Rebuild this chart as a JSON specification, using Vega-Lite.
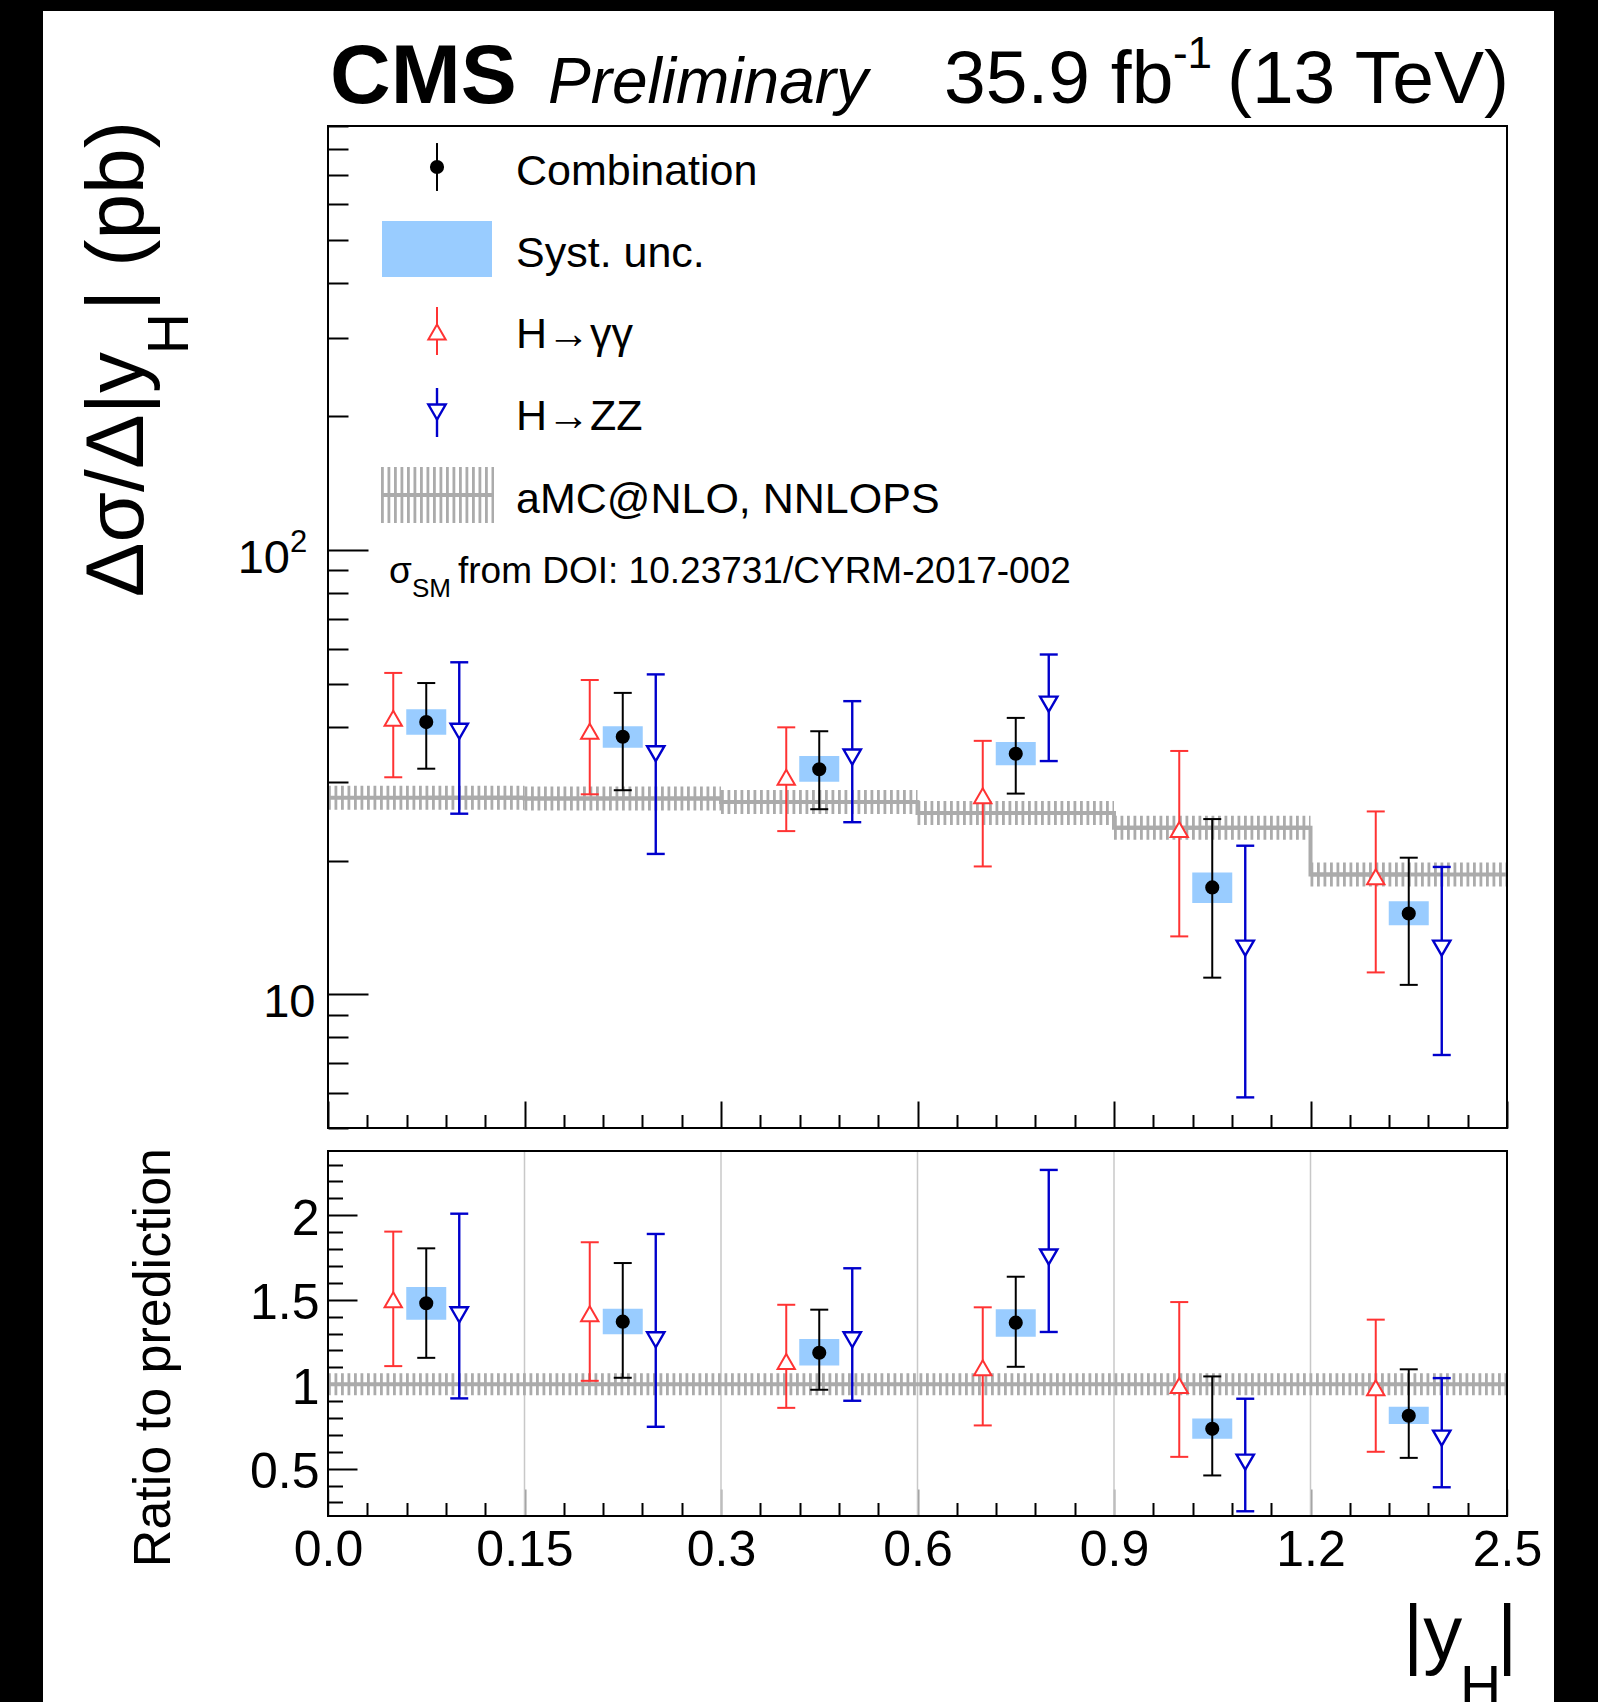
{
  "$schema": "https://vega.github.io/schema/vega-lite/v6.json",
  "width": 1511,
  "height": 1691,
  "autosize": {"type": "none"},
  "padding": {"left": 43, "top": 11, "right": 44, "bottom": 0},
  "background": "black",
  "config": {"view": {"fill": "white", "stroke": null}, "font": "Liberation Sans"},
  "datasets": {
    "bins": [
      {"bin": "0-0.15", "lo": 0, "hi": 0.15, "mid": 0.075, "pred": 27.7, "comb": 41.0, "comb_lo": 32.2, "comb_hi": 50.2, "syst_lo": 38.4, "syst_hi": 43.8, "gg": 41.8, "gg_lo": 30.8, "gg_hi": 52.9, "zz": 39.1, "zz_lo": 25.5, "zz_hi": 55.9, "r_comb": 1.479, "r_comb_lo": 1.156, "r_comb_hi": 1.804, "r_syst_lo": 1.382, "r_syst_hi": 1.575, "r_gg": 1.5, "r_gg_lo": 1.107, "r_gg_hi": 1.903, "r_zz": 1.411, "r_zz_lo": 0.916, "r_zz_hi": 2.009},
      {"bin": "0.15-0.3", "lo": 0.15, "hi": 0.3, "mid": 0.225, "pred": 27.6, "comb": 38.0, "comb_lo": 28.8, "comb_hi": 47.7, "syst_lo": 35.9, "syst_hi": 40.1, "gg": 39.1, "gg_lo": 28.2, "gg_hi": 51.0, "zz": 34.8, "zz_lo": 20.7, "zz_hi": 52.5, "r_comb": 1.37, "r_comb_lo": 1.038, "r_comb_hi": 1.717, "r_syst_lo": 1.295, "r_syst_hi": 1.447, "r_gg": 1.417, "r_gg_lo": 1.02, "r_gg_hi": 1.84, "r_zz": 1.263, "r_zz_lo": 0.748, "r_zz_hi": 1.889},
      {"bin": "0.3-0.6", "lo": 0.3, "hi": 0.6, "mid": 0.45, "pred": 27.1, "comb": 32.1, "comb_lo": 26.1, "comb_hi": 39.1, "syst_lo": 30.1, "syst_hi": 34.4, "gg": 30.8, "gg_lo": 23.3, "gg_hi": 39.9, "zz": 34.2, "zz_lo": 24.4, "zz_hi": 45.7, "r_comb": 1.186, "r_comb_lo": 0.967, "r_comb_hi": 1.441, "r_syst_lo": 1.111, "r_syst_hi": 1.267, "r_gg": 1.135, "r_gg_lo": 0.86, "r_gg_hi": 1.47, "r_zz": 1.263, "r_zz_lo": 0.902, "r_zz_hi": 1.686},
      {"bin": "0.6-0.9", "lo": 0.6, "hi": 0.9, "mid": 0.75, "pred": 25.6, "comb": 34.8, "comb_lo": 28.3, "comb_hi": 41.9, "syst_lo": 32.8, "syst_hi": 37.0, "gg": 28.0, "gg_lo": 19.4, "gg_hi": 37.2, "zz": 45.0, "zz_lo": 33.5, "zz_hi": 58.2, "r_comb": 1.364, "r_comb_lo": 1.103, "r_comb_hi": 1.636, "r_syst_lo": 1.281, "r_syst_hi": 1.443, "r_gg": 1.097, "r_gg_lo": 0.756, "r_gg_hi": 1.455, "r_zz": 1.753, "r_zz_lo": 1.309, "r_zz_hi": 2.268},
      {"bin": "0.9-1.2", "lo": 0.9, "hi": 1.2, "mid": 1.05, "pred": 23.7, "comb": 17.4, "comb_lo": 10.9, "comb_hi": 24.8, "syst_lo": 16.05, "syst_hi": 18.8, "gg": 23.5, "gg_lo": 13.5, "gg_hi": 35.3, "zz": 12.7, "zz_lo": 5.86, "zz_hi": 21.6, "r_comb": 0.736, "r_comb_lo": 0.46, "r_comb_hi": 1.046, "r_syst_lo": 0.677, "r_syst_hi": 0.797, "r_gg": 0.993, "r_gg_lo": 0.57, "r_gg_hi": 1.486, "r_zz": 0.539, "r_zz_lo": 0.248, "r_zz_hi": 0.914},
      {"bin": "1.2-2.5", "lo": 1.2, "hi": 2.5, "mid": 1.85, "pred": 18.6, "comb": 15.2, "comb_lo": 10.5, "comb_hi": 20.3, "syst_lo": 14.3, "syst_hi": 16.2, "gg": 18.4, "gg_lo": 11.2, "gg_hi": 25.8, "zz": 12.7, "zz_lo": 7.3, "zz_hi": 19.35, "r_comb": 0.813, "r_comb_lo": 0.564, "r_comb_hi": 1.088, "r_syst_lo": 0.764, "r_syst_hi": 0.866, "r_gg": 0.979, "r_gg_lo": 0.6, "r_gg_hi": 1.382, "r_zz": 0.681, "r_zz_lo": 0.39, "r_zz_hi": 1.036}
    ]
  },
  "layer": [
    {
      "layer": [
        {
          "data": {"name": "bins"},
          "mark": {"type": "rule", "color": "#ababab", "strokeWidth": 24, "strokeDash": [2.8, 3.7]},
          "encoding": {
            "x": {"field": "lo", "type": "quantitative",
              "scale": {"domain": [0, 0.15, 0.3, 0.6, 0.9, 1.2, 2.5], "range": [285, 481.5, 678, 874.5, 1071, 1267.5, 1464], "nice": false, "zero": false},
              "axis": {"orient": "bottom", "offset": -574, "title": null, "domain": false, "grid": false, "labels": false,
                "values": [0.03, 0.06, 0.09, 0.12, 0.18, 0.21, 0.24, 0.27, 0.36, 0.42, 0.48, 0.54, 0.66, 0.72, 0.78, 0.84, 0.96, 1.02, 1.08, 1.14, 1.46, 1.72, 1.98, 2.24],
                "tickSize": -13.5, "tickWidth": 2, "tickColor": "black"}},
            "x2": {"field": "hi"},
            "y": {"field": "pred", "type": "quantitative",
              "scale": {"type": "log", "domain": [5, 901], "range": [1117, 115], "nice": false},
              "axis": {"orient": "left", "offset": -285, "title": null, "domain": false, "grid": false, "labels": false,
                "values": [5, 6, 7, 8, 9, 20, 30, 40, 50, 60, 70, 80, 90, 200, 300, 400, 500, 600, 700, 800, 900],
                "tickSize": -20, "tickWidth": 2, "tickColor": "black"}}
          }
        },
        {
          "layer": [
            {
              "data": {"name": "bins"},
              "mark": {"type": "rule", "color": "#ababab", "strokeWidth": 4},
              "encoding": {
                "x": {"field": "lo", "type": "quantitative",
                  "axis": {"orient": "bottom", "offset": -574, "title": null, "domain": false, "grid": false, "labels": false,
                    "values": [0, 0.15, 0.3, 0.6, 0.9, 1.2, 2.5],
                    "tickSize": -27, "tickWidth": 2, "tickColor": "black"}},
                "x2": {"field": "hi"},
                "y": {"field": "pred", "type": "quantitative",
                  "axis": {"orient": "left", "offset": -285, "title": null, "domain": false, "grid": false,
                    "values": [10, 100],
                    "tickSize": -40, "tickWidth": 2, "tickColor": "black",
                    "labelExpr": "datum.value == 10 ? '10' : ''",
                    "labelFont": "Liberation Sans", "labelFontSize": 47, "labelColor": "black",
                    "labelPadding": 53, "labelOverlap": false, "labelFlush": false, "labelBaseline": "alphabetic", "labelOffset": 22.5}}
              }
            },
            {
              "data": {"name": "bins"},
              "mark": {"type": "line", "color": "#ababab", "strokeWidth": 4, "interpolate": "step"},
              "encoding": {"x": {"field": "mid", "type": "quantitative"}, "y": {"field": "pred", "type": "quantitative"}}
            },
            {
              "data": {"name": "bins"},
              "mark": {"type": "rect", "color": "#99ccff", "xOffset": -20, "x2Offset": 20},
              "encoding": {"x": {"field": "mid", "type": "quantitative"}, "x2": {"field": "mid"}, "y": {"field": "syst_lo", "type": "quantitative"}, "y2": {"field": "syst_hi"}}
            },
            {
              "data": {"name": "bins"},
              "mark": {"type": "rule", "color": "#ff3333", "strokeWidth": 2, "xOffset": -33},
              "encoding": {"x": {"field": "mid", "type": "quantitative"}, "y": {"field": "gg_lo", "type": "quantitative"}, "y2": {"field": "gg_hi"}}
            },
            {
              "data": {"name": "bins"},
              "mark": {"type": "rule", "color": "#ff3333", "strokeWidth": 2, "xOffset": -42, "x2Offset": -24},
              "encoding": {"x": {"field": "mid", "type": "quantitative"}, "x2": {"field": "mid"}, "y": {"field": "gg_lo", "type": "quantitative"}}
            },
            {
              "data": {"name": "bins"},
              "mark": {"type": "rule", "color": "#ff3333", "strokeWidth": 2, "xOffset": -42, "x2Offset": -24},
              "encoding": {"x": {"field": "mid", "type": "quantitative"}, "x2": {"field": "mid"}, "y": {"field": "gg_hi", "type": "quantitative"}}
            },
            {
              "data": {"name": "bins"},
              "mark": {"type": "point", "shape": "triangle-up", "filled": true, "fill": "white", "stroke": "#ff3333", "strokeWidth": 2, "size": 300, "opacity": 1, "xOffset": -33},
              "encoding": {"x": {"field": "mid", "type": "quantitative"}, "y": {"field": "gg", "type": "quantitative"}}
            },
            {
              "data": {"name": "bins"},
              "mark": {"type": "rule", "color": "black", "strokeWidth": 2},
              "encoding": {"x": {"field": "mid", "type": "quantitative"}, "y": {"field": "comb_lo", "type": "quantitative"}, "y2": {"field": "comb_hi"}}
            },
            {
              "data": {"name": "bins"},
              "mark": {"type": "rule", "color": "black", "strokeWidth": 2, "xOffset": -9, "x2Offset": 9},
              "encoding": {"x": {"field": "mid", "type": "quantitative"}, "x2": {"field": "mid"}, "y": {"field": "comb_lo", "type": "quantitative"}}
            },
            {
              "data": {"name": "bins"},
              "mark": {"type": "rule", "color": "black", "strokeWidth": 2, "xOffset": -9, "x2Offset": 9},
              "encoding": {"x": {"field": "mid", "type": "quantitative"}, "x2": {"field": "mid"}, "y": {"field": "comb_hi", "type": "quantitative"}}
            },
            {
              "data": {"name": "bins"},
              "mark": {"type": "point", "shape": "circle", "filled": true, "color": "black", "size": 200, "opacity": 1},
              "encoding": {"x": {"field": "mid", "type": "quantitative"}, "y": {"field": "comb", "type": "quantitative"}}
            },
            {
              "data": {"name": "bins"},
              "mark": {"type": "rule", "color": "#0000cc", "strokeWidth": 2.4, "xOffset": 33},
              "encoding": {"x": {"field": "mid", "type": "quantitative"}, "y": {"field": "zz_lo", "type": "quantitative"}, "y2": {"field": "zz_hi"}}
            },
            {
              "data": {"name": "bins"},
              "mark": {"type": "rule", "color": "#0000cc", "strokeWidth": 2.4, "xOffset": 24, "x2Offset": 42},
              "encoding": {"x": {"field": "mid", "type": "quantitative"}, "x2": {"field": "mid"}, "y": {"field": "zz_lo", "type": "quantitative"}}
            },
            {
              "data": {"name": "bins"},
              "mark": {"type": "rule", "color": "#0000cc", "strokeWidth": 2.4, "xOffset": 24, "x2Offset": 42},
              "encoding": {"x": {"field": "mid", "type": "quantitative"}, "x2": {"field": "mid"}, "y": {"field": "zz_hi", "type": "quantitative"}}
            },
            {
              "data": {"name": "bins"},
              "mark": {"type": "point", "shape": "triangle-down", "filled": true, "fill": "white", "stroke": "#0000cc", "strokeWidth": 2.4, "size": 300, "opacity": 1, "xOffset": 33},
              "encoding": {"x": {"field": "mid", "type": "quantitative"}, "y": {"field": "zz", "type": "quantitative"}}
            },
            {
              "data": {"values": [{}]},
              "mark": {"type": "rect", "fillOpacity": 0, "stroke": "black", "strokeWidth": 2},
              "encoding": {"x": {"datum": 0}, "x2": {"datum": 2.5}, "y": {"datum": 5}, "y2": {"datum": 901}}
            },
            {
              "data": {"values": [{}]},
              "mark": {"type": "text", "text": "10", "align": "right", "baseline": "alphabetic", "fontSize": 47, "color": "black"},
              "encoding": {"x": {"datum": -0.029}, "y": {"datum": 88.8}}
            },
            {
              "data": {"values": [{}]},
              "mark": {"type": "text", "text": "2", "align": "left", "baseline": "alphabetic", "fontSize": 31, "color": "black"},
              "encoding": {"x": {"datum": -0.029}, "y": {"datum": 99.0}}
            },
            {
              "data": {"values": [{}]},
              "mark": {"type": "rule", "color": "black", "strokeWidth": 2},
              "encoding": {"x": {"datum": 0.08321}, "y": {"datum": 824.8}, "y2": {"datum": 643.4}}
            },
            {
              "data": {"values": [{}]},
              "mark": {"type": "point", "shape": "circle", "filled": true, "color": "black", "size": 200, "opacity": 1},
              "encoding": {"x": {"datum": 0.08321}, "y": {"datum": 728.6}}
            },
            {
              "data": {"values": [{}]},
              "mark": {"type": "rect", "color": "#99ccff"},
              "encoding": {"x": {"datum": 0.04122}, "x2": {"datum": 0.12519}, "y": {"datum": 550.7}, "y2": {"datum": 411.9}}
            },
            {
              "data": {"values": [{}]},
              "mark": {"type": "rule", "color": "#ff3333", "strokeWidth": 2},
              "encoding": {"x": {"datum": 0.08321}, "y": {"datum": 352.6}, "y2": {"datum": 274.9}}
            },
            {
              "data": {"values": [{}]},
              "mark": {"type": "point", "shape": "triangle-up", "filled": true, "fill": "white", "stroke": "#ff3333", "strokeWidth": 2, "size": 300, "opacity": 1},
              "encoding": {"x": {"datum": 0.08321}, "y": {"datum": 309.7}}
            },
            {
              "data": {"values": [{}]},
              "mark": {"type": "rule", "color": "#0000cc", "strokeWidth": 2.4},
              "encoding": {"x": {"datum": 0.08321}, "y": {"datum": 231.7}, "y2": {"datum": 179.7}}
            },
            {
              "data": {"values": [{}]},
              "mark": {"type": "point", "shape": "triangle-down", "filled": true, "fill": "white", "stroke": "#0000cc", "strokeWidth": 2.4, "size": 300, "opacity": 1},
              "encoding": {"x": {"datum": 0.08321}, "y": {"datum": 204.6}}
            },
            {
              "data": {"values": [{}]},
              "mark": {"type": "rule", "color": "#ababab", "strokeWidth": 56, "strokeDash": [2.8, 3.7]},
              "encoding": {"x": {"datum": 0.04046}, "x2": {"datum": 0.12672}, "y": {"datum": 133.0}}
            },
            {
              "data": {"values": [{}]},
              "mark": {"type": "rule", "color": "#ababab", "strokeWidth": 4},
              "encoding": {"x": {"datum": 0.04046}, "x2": {"datum": 0.12672}, "y": {"datum": 133.0}}
            },
            {
              "data": {"values": [{}]},
              "mark": {"type": "text", "text": "Combination", "align": "left", "baseline": "alphabetic", "fontSize": 43, "color": "black"},
              "encoding": {"x": {"datum": 0.14351}, "y": {"datum": 663.7}}
            },
            {
              "data": {"values": [{}]},
              "mark": {"type": "text", "text": "Syst. unc.", "align": "left", "baseline": "alphabetic", "fontSize": 43, "color": "black"},
              "encoding": {"x": {"datum": 0.14351}, "y": {"datum": 433.8}}
            },
            {
              "data": {"values": [{}]},
              "mark": {"type": "text", "text": "H→γγ", "align": "left", "baseline": "alphabetic", "fontSize": 43, "color": "black"},
              "encoding": {"x": {"datum": 0.14351}, "y": {"datum": 285.0}}
            },
            {
              "data": {"values": [{}]},
              "mark": {"type": "text", "text": "H→ZZ", "align": "left", "baseline": "alphabetic", "fontSize": 43, "color": "black"},
              "encoding": {"x": {"datum": 0.14351}, "y": {"datum": 186.3}}
            },
            {
              "data": {"values": [{}]},
              "mark": {"type": "text", "text": "aMC@NLO, NNLOPS", "align": "left", "baseline": "alphabetic", "fontSize": 43, "color": "black"},
              "encoding": {"x": {"datum": 0.14351}, "y": {"datum": 121.2}}
            },
            {
              "data": {"values": [{}]},
              "mark": {"type": "text", "text": "σ", "align": "left", "baseline": "alphabetic", "fontSize": 37, "color": "black"},
              "encoding": {"x": {"datum": 0.04656}, "y": {"datum": 84.3}}
            },
            {
              "data": {"values": [{}]},
              "mark": {"type": "text", "text": "SM", "align": "left", "baseline": "alphabetic", "fontSize": 26, "color": "black"},
              "encoding": {"x": {"datum": 0.06412}, "y": {"datum": 78.4}}
            },
            {
              "data": {"values": [{}]},
              "mark": {"type": "text", "text": "from DOI: 10.23731/CYRM-2017-002", "align": "left", "baseline": "alphabetic", "fontSize": 37, "color": "black"},
              "encoding": {"x": {"datum": 0.09924}, "y": {"datum": 84.3}}
            },
            {
              "data": {"values": [{}]},
              "mark": {"type": "text", "text": "CMS", "align": "left", "baseline": "alphabetic", "fontSize": 84, "fontWeight": "bold", "color": "black"},
              "encoding": {"x": {"datum": 0.00153}, "y": {"datum": 1015.0}}
            },
            {
              "data": {"values": [{}]},
              "mark": {"type": "text", "text": "Preliminary", "align": "left", "baseline": "alphabetic", "fontSize": 64, "fontStyle": "italic", "color": "black"},
              "encoding": {"x": {"datum": 0.16794}, "y": {"datum": 1015.0}}
            },
            {
              "data": {"values": [{}]},
              "mark": {"type": "text", "text": "35.9 fb", "align": "left", "baseline": "alphabetic", "fontSize": 75, "color": "black"},
              "encoding": {"x": {"datum": 0.64046}, "y": {"datum": 1015.0}}
            },
            {
              "data": {"values": [{}]},
              "mark": {"type": "text", "text": "-1", "align": "left", "baseline": "alphabetic", "fontSize": 44, "color": "black"},
              "encoding": {"x": {"datum": 0.99}, "y": {"datum": 1217.0}}
            },
            {
              "data": {"values": [{}]},
              "mark": {"type": "text", "text": "(13 TeV)", "align": "right", "baseline": "alphabetic", "fontSize": 75, "color": "black"},
              "encoding": {"x": {"datum": 2.51323}, "y": {"datum": 1015.0}}
            },
            {
              "data": {"values": [{}]},
              "mark": {"type": "text", "text": "Δσ/Δ|y", "angle": 270, "align": "right", "baseline": "alphabetic", "fontSize": 82, "color": "black"},
              "encoding": {"x": {"datum": -0.1412}, "y": {"datum": 279.2}}
            },
            {
              "data": {"values": [{}]},
              "mark": {"type": "text", "text": "H", "angle": 270, "align": "right", "baseline": "alphabetic", "fontSize": 57, "color": "black"},
              "encoding": {"x": {"datum": -0.1069}, "y": {"datum": 341.8}}
            },
            {
              "data": {"values": [{}]},
              "mark": {"type": "text", "text": "| (pb)", "angle": 270, "align": "right", "baseline": "alphabetic", "fontSize": 82, "color": "black"},
              "encoding": {"x": {"datum": -0.1412}, "y": {"datum": 924.6}}
            }
          ]
        }
      ],
      "resolve": {"axis": {"x": "independent", "y": "independent"}}
    },
    {
      "layer": [
        {
          "layer": [
            {
              "data": {"name": "bins"},
              "mark": {"type": "rule", "color": "#c8c8c8", "strokeWidth": 1.5},
              "encoding": {"x": {"field": "hi", "type": "quantitative", "axis": null}, "y": {"datum": 0.22, "axis": null}, "y2": {"datum": 2.38}}
            },
            {
              "data": {"values": [{}]},
              "mark": {"type": "rule", "color": "#ababab", "strokeWidth": 22, "strokeDash": [2.8, 3.7]},
              "encoding": {"x": {"datum": 0, "axis": null}, "x2": {"datum": 2.5}, "y": {"datum": 1, "axis": null}}
            },
            {
              "data": {"values": [{}]},
              "mark": {"type": "rule", "color": "#ababab", "strokeWidth": 4},
              "encoding": {"x": {"datum": 0, "axis": null}, "x2": {"datum": 2.5}, "y": {"datum": 1, "axis": null}}
            }
          ]
        },
        {
          "data": {"name": "bins"},
          "mark": {"type": "rect", "color": "#99ccff", "xOffset": -20, "x2Offset": 20},
          "encoding": {
            "x": {"field": "mid", "type": "quantitative",
              "scale": {"domain": [0, 0.15, 0.3, 0.6, 0.9, 1.2, 2.5], "range": [285, 481.5, 678, 874.5, 1071, 1267.5, 1464], "nice": false, "zero": false},
              "axis": {"orient": "bottom", "offset": -186, "title": null, "domain": false, "grid": false, "labels": false,
                "values": [0.03, 0.06, 0.09, 0.12, 0.18, 0.21, 0.24, 0.27, 0.36, 0.42, 0.48, 0.54, 0.66, 0.72, 0.78, 0.84, 0.96, 1.02, 1.08, 1.14, 1.46, 1.72, 1.98, 2.24],
                "tickSize": -13.5, "tickWidth": 2, "tickColor": "black"}},
            "x2": {"field": "mid"},
            "y": {"field": "r_syst_lo", "type": "quantitative",
              "scale": {"type": "linear", "domain": [0.22, 2.38], "range": [1505, 1140], "nice": false, "zero": false},
              "axis": {"orient": "left", "offset": -285, "title": null, "domain": false, "grid": false, "labels": false,
                "values": [0.3, 0.4, 0.6, 0.7, 0.8, 0.9, 1.1, 1.2, 1.3, 1.4, 1.6, 1.7, 1.8, 1.9, 2.1, 2.2, 2.3],
                "tickSize": -14.5, "tickWidth": 2, "tickColor": "black"}},
            "y2": {"field": "r_syst_hi"}
          }
        },
        {
          "layer": [
            {
              "data": {"name": "bins"},
              "mark": {"type": "rule", "color": "#ff3333", "strokeWidth": 2, "xOffset": -33},
              "encoding": {
                "x": {"field": "mid", "type": "quantitative",
                  "axis": {"orient": "bottom", "offset": -186, "title": null, "domain": false, "grid": false,
                    "values": [0, 0.15, 0.3, 0.6, 0.9, 1.2, 2.5],
                    "tickSize": -27, "tickWidth": 2, "tickColor": "#9a9a9a",
                    "labelExpr": "datum.value == 0 ? '0.0' : format(datum.value, '.2~f')",
                    "labelFont": "Liberation Sans", "labelFontSize": 50, "labelColor": "black",
                    "labelPadding": 76, "labelOverlap": false, "labelFlush": false, "labelAlign": "center", "labelBaseline": "alphabetic"}},
                "y": {"field": "r_gg_lo", "type": "quantitative",
                  "axis": {"orient": "left", "offset": -285, "title": null, "domain": false, "grid": false,
                    "values": [0.5, 1, 1.5, 2],
                    "tickSize": -29, "tickWidth": 2, "tickColor": "black",
                    "labelExpr": "format(datum.value, '~g')",
                    "labelFont": "Liberation Sans", "labelFontSize": 50, "labelColor": "black",
                    "labelPadding": 38, "labelOverlap": false, "labelFlush": false, "labelBaseline": "alphabetic", "labelOffset": 19}},
                "y2": {"field": "r_gg_hi"}
              }
            },
            {
              "data": {"name": "bins"},
              "mark": {"type": "rule", "color": "#ff3333", "strokeWidth": 2, "xOffset": -42, "x2Offset": -24},
              "encoding": {"x": {"field": "mid", "type": "quantitative"}, "x2": {"field": "mid"}, "y": {"field": "r_gg_lo", "type": "quantitative"}}
            },
            {
              "data": {"name": "bins"},
              "mark": {"type": "rule", "color": "#ff3333", "strokeWidth": 2, "xOffset": -42, "x2Offset": -24},
              "encoding": {"x": {"field": "mid", "type": "quantitative"}, "x2": {"field": "mid"}, "y": {"field": "r_gg_hi", "type": "quantitative"}}
            },
            {
              "data": {"name": "bins"},
              "mark": {"type": "point", "shape": "triangle-up", "filled": true, "fill": "white", "stroke": "#ff3333", "strokeWidth": 2, "size": 300, "opacity": 1, "xOffset": -33},
              "encoding": {"x": {"field": "mid", "type": "quantitative"}, "y": {"field": "r_gg", "type": "quantitative"}}
            },
            {
              "data": {"name": "bins"},
              "mark": {"type": "rule", "color": "black", "strokeWidth": 2},
              "encoding": {"x": {"field": "mid", "type": "quantitative"}, "y": {"field": "r_comb_lo", "type": "quantitative"}, "y2": {"field": "r_comb_hi"}}
            },
            {
              "data": {"name": "bins"},
              "mark": {"type": "rule", "color": "black", "strokeWidth": 2, "xOffset": -9, "x2Offset": 9},
              "encoding": {"x": {"field": "mid", "type": "quantitative"}, "x2": {"field": "mid"}, "y": {"field": "r_comb_lo", "type": "quantitative"}}
            },
            {
              "data": {"name": "bins"},
              "mark": {"type": "rule", "color": "black", "strokeWidth": 2, "xOffset": -9, "x2Offset": 9},
              "encoding": {"x": {"field": "mid", "type": "quantitative"}, "x2": {"field": "mid"}, "y": {"field": "r_comb_hi", "type": "quantitative"}}
            },
            {
              "data": {"name": "bins"},
              "mark": {"type": "point", "shape": "circle", "filled": true, "color": "black", "size": 200, "opacity": 1},
              "encoding": {"x": {"field": "mid", "type": "quantitative"}, "y": {"field": "r_comb", "type": "quantitative"}}
            },
            {
              "data": {"name": "bins"},
              "mark": {"type": "rule", "color": "#0000cc", "strokeWidth": 2.4, "xOffset": 33},
              "encoding": {"x": {"field": "mid", "type": "quantitative"}, "y": {"field": "r_zz_lo", "type": "quantitative"}, "y2": {"field": "r_zz_hi"}}
            },
            {
              "data": {"name": "bins"},
              "mark": {"type": "rule", "color": "#0000cc", "strokeWidth": 2.4, "xOffset": 24, "x2Offset": 42},
              "encoding": {"x": {"field": "mid", "type": "quantitative"}, "x2": {"field": "mid"}, "y": {"field": "r_zz_lo", "type": "quantitative"}}
            },
            {
              "data": {"name": "bins"},
              "mark": {"type": "rule", "color": "#0000cc", "strokeWidth": 2.4, "xOffset": 24, "x2Offset": 42},
              "encoding": {"x": {"field": "mid", "type": "quantitative"}, "x2": {"field": "mid"}, "y": {"field": "r_zz_hi", "type": "quantitative"}}
            },
            {
              "data": {"name": "bins"},
              "mark": {"type": "point", "shape": "triangle-down", "filled": true, "fill": "white", "stroke": "#0000cc", "strokeWidth": 2.4, "size": 300, "opacity": 1, "xOffset": 33},
              "encoding": {"x": {"field": "mid", "type": "quantitative"}, "y": {"field": "r_zz", "type": "quantitative"}}
            },
            {
              "data": {"values": [{}]},
              "mark": {"type": "rect", "fillOpacity": 0, "stroke": "black", "strokeWidth": 2},
              "encoding": {"x": {"datum": 0}, "x2": {"datum": 2.5}, "y": {"datum": 0.22}, "y2": {"datum": 2.38}}
            },
            {
              "data": {"values": [{}]},
              "mark": {"type": "text", "text": "Ratio to prediction", "angle": 270, "align": "right", "baseline": "alphabetic", "fontSize": 52, "color": "black"},
              "encoding": {"x": {"datum": -0.1206}, "y": {"datum": 2.3977}}
            },
            {
              "data": {"values": [{}]},
              "mark": {"type": "text", "text": "|y", "align": "left", "baseline": "alphabetic", "fontSize": 78, "color": "black"},
              "encoding": {"x": {"datum": 1.81196}, "y": {"datum": -0.6322}}
            },
            {
              "data": {"values": [{}]},
              "mark": {"type": "text", "text": "H", "align": "left", "baseline": "alphabetic", "fontSize": 57, "color": "black"},
              "encoding": {"x": {"datum": 2.18906}, "y": {"datum": -0.9044}}
            },
            {
              "data": {"values": [{}]},
              "mark": {"type": "text", "text": "|", "align": "left", "baseline": "alphabetic", "fontSize": 78, "color": "black"},
              "encoding": {"x": {"datum": 2.43384}, "y": {"datum": -0.6322}}
            }
          ]
        }
      ],
      "resolve": {"axis": {"x": "independent", "y": "independent"}}
    }
  ],
  "resolve": {"scale": {"y": "independent"}, "axis": {"x": "independent", "y": "independent"}}
}
